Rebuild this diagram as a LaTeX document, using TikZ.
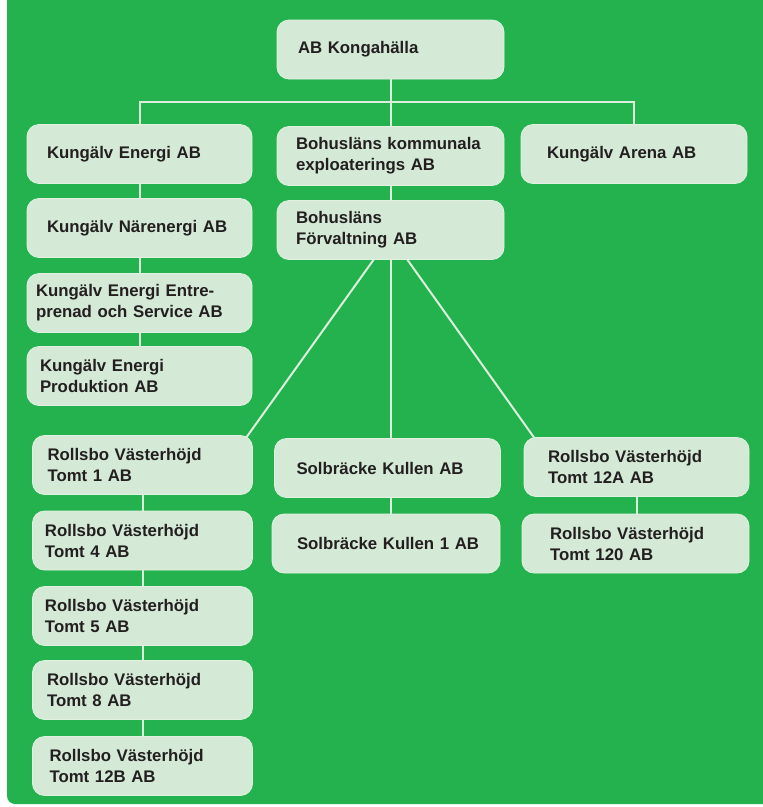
\documentclass[tikz,border=0pt]{standalone}
\usepackage{fontspec}
\setmainfont{Liberation Sans}
\usetikzlibrary{calc}
\definecolor{bggreen}{HTML}{24B24E}
\definecolor{boxfill}{HTML}{D4EAD6}
\definecolor{boxedge}{HTML}{E2F1E2}
\definecolor{linecol}{HTML}{DCEEDC}
\definecolor{txt}{HTML}{231F20}
\pgfdeclarelayer{bg}
\pgfdeclarelayer{wires}
\pgfsetlayers{bg,wires,main}
\begin{document}
\begin{tikzpicture}[x=1pt,y=-1pt,
  box/.style 2 args={draw=boxedge, line width=0.8pt, fill=boxfill, rounded corners=12pt,
    minimum height=59pt, inner ysep=0pt, inner xsep=#2, text width={#1-2*#2},
    align=left, text=txt, font=\fontsize{16.8}{21}\selectfont\bfseries},
  wire/.style={draw=linecol, line width=2pt}]
\useasboundingbox (0,0) rectangle (763,807);
\begin{pgfonlayer}{bg}
  \fill[bggreen, rounded corners=8pt] (7,-12) rectangle (775,804);
\end{pgfonlayer}

\node[box={227pt}{21pt}] (top) at (390.5,49.5) {AB Kongahälla};
\node[box={225pt}{20pt}] (e1) at (139.5,154) {Kungälv Energi AB};
\node[box={227pt}{19pt}] (bk) at (390.5,156) {Bohusläns kommunala\\exploaterings AB};
\node[box={226pt}{26pt}] (ar) at (634,154) {Kungälv Arena AB};
\node[box={225pt}{20pt}] (e2) at (139.5,228) {Kungälv Närenergi AB};
\node[box={227pt}{19pt}] (bf) at (390.5,230) {Bohusläns\\Förvaltning AB};
\node[box={225pt}{9pt}] (e3) at (139.5,303) {Kungälv Energi Entre-\\prenad och Service AB};
\node[box={225pt}{13pt}] (e4) at (139.5,376) {Kungälv Energi\\Produktion AB};

\node[box={220pt}{15pt}] (r1) at (142.5,465) {Rollsbo Västerhöjd\\Tomt 1 AB};
\node[box={226pt}{22pt}] (s1) at (387.5,468) {Solbräcke Kullen AB};
\node[box={225pt}{24pt}] (r12a) at (636.5,467) {Rollsbo Västerhöjd\\Tomt 12A AB};
\node[box={220pt}{12.5pt}] (r4) at (142.5,540.5) {Rollsbo Västerhöjd\\Tomt 4 AB};
\node[box={228pt}{25pt}] (s2) at (386,543.5) {\mbox{Solbräcke Kullen 1 AB}};
\node[box={227pt}{28pt}] (r120) at (635.5,543.5) {Rollsbo Västerhöjd\\Tomt 120 AB};
\node[box={220pt}{12.5pt}] (r5) at (142.5,616) {Rollsbo Västerhöjd\\Tomt 5 AB};
\node[box={220pt}{14.5pt}] (r8) at (142.5,690) {Rollsbo Västerhöjd\\Tomt 8 AB};
\node[box={220pt}{17pt}] (r12b) at (142.5,766) {Rollsbo Västerhöjd\\Tomt 12B AB};

\begin{pgfonlayer}{wires}
  \coordinate (busy) at (390.5,102);
  \draw[wire] (top.south) -- (bk.north);
  \draw[wire] (e1.north) -- (e1.north |- busy) -- (ar.north |- busy) -- (ar.north);
  \draw[wire] (e1) -- (e2) -- (e3) -- (e4);
  \draw[wire] (bk) -- (bf);
  \draw[wire] (bf.south) -- (bf.south |- s1.north);
  \draw[wire] (s1.south -| bf.south) -- (s2.north -| bf.south);
  \draw[wire] (r12a.south) -- (r12a.south |- r120.north);
  \draw[wire] (r1) -- (r4) -- (r5) -- (r8) -- (r12b);
  \draw[wire] ($(bf.south)+(-17,0)$) -- ($(r1.north east)+(-8.5,5)$);
  \draw[wire] ($(bf.south)+(17,0)$) -- ($(r12a.north west)+(13,4)$);
\end{pgfonlayer}
\end{tikzpicture}
\end{document}
